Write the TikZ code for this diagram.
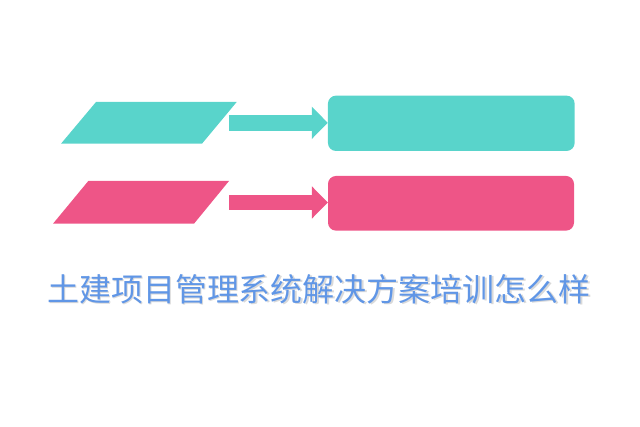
\documentclass[tikz,border=0pt]{standalone}
\usepackage{fontspec}
\newfontfamily\cjk{Noto Sans CJK SC}
\usetikzlibrary{arrows.meta}
\definecolor{teal1}{HTML}{59D4CB}
\definecolor{pink1}{HTML}{EE5587}
\definecolor{titleblue}{HTML}{6096E6}
\tikzset{
  tgtbox/.style={rectangle, rounded corners=8pt, inner sep=0pt, draw=none},
  blockarrow/.style={line width=15.5pt, -{Triangle[length=16pt,width=31.5pt]}},
  titletext/.style={font=\cjk\fontsize{32}{34}\selectfont, inner sep=0pt},
}
\begin{document}
\begin{tikzpicture}[x=1pt,y=-1pt]
		\useasboundingbox (0,0) rectangle (640,427);
		% slanted input shapes
		\fill[teal1] (61,143.7) -- (96,102) -- (236.7,102) -- (202,143.7) -- cycle;
		\fill[pink1] (53,223.7) -- (88.3,181) -- (229,181) -- (194,223.7) -- cycle;
		\coordinate (p1) at (229,122.8);
		\coordinate (p2) at (229,202.5);
		\node[tgtbox,fill=teal1,minimum width=246.7pt,minimum height=55.3pt] (b1) at (451.3,123.3) {};
		\node[tgtbox,fill=pink1,minimum width=246pt,minimum height=54.7pt] (b2) at (451,203.3) {};
		\draw[blockarrow,teal1] (p1) -- (b1.west |- p1);
		\draw[blockarrow,pink1] (p2) -- (b2.west |- p2);
		\node[titletext,text=black!15] (shadow) at (320.2,290.2) {土建项目管理系统解决方案培训怎么样};
		\node[titletext,text=titleblue] (title) at (319,289) {土建项目管理系统解决方案培训怎么样};
	\end{tikzpicture}
\end{document}
